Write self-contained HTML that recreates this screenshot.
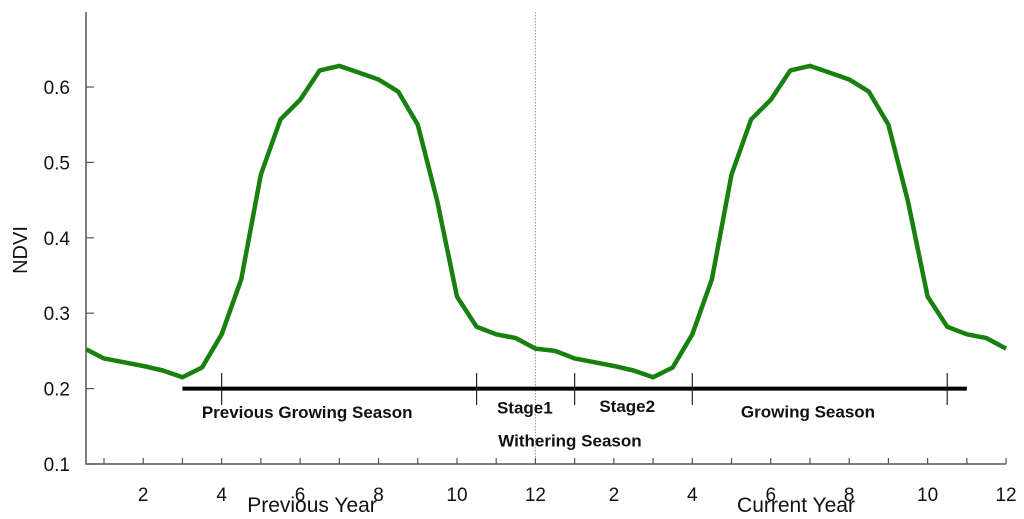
<!DOCTYPE html>
<html><head><meta charset="utf-8"><style>
body{margin:0;background:#fff;}
svg{display:block;font-family:"Liberation Sans",sans-serif;}
</style></head><body>
<svg id="c" width="1024" height="519" viewBox="0 0 1024 519"></svg>
<script>
const months=[0.55,1,1.5,2,2.5,3,3.5,4,4.5,5,5.5,6,6.5,7,7.5,8,8.5,9,9.5,10,10.5,11,11.5,12,12.5,13,13.5,14,14.5,15,15.5,16,16.5,17,17.5,18,18.5,19,19.5,20,20.5,21,21.5,22,22.5,23,23.5,24];
const ndvi=[0.252,0.240,0.235,0.230,0.224,0.215,0.228,0.272,0.345,0.484,0.557,0.583,0.622,0.628,0.619,0.610,0.594,0.550,0.448,0.322,0.282,0.272,0.267,0.253,0.250,0.240,0.235,0.230,0.224,0.215,0.228,0.272,0.345,0.484,0.557,0.583,0.622,0.628,0.619,0.610,0.594,0.550,0.448,0.322,0.282,0.272,0.267,0.253];
const yTicks=[0.1,0.2,0.3,0.4,0.5,0.6];
const xTickLabels=["2","4","6","8","10","12","2","4","6","8","10","12"];
const xTickMonths=[2,4,6,8,10,12,14,16,18,20,22,24];
const seasonStart=3, seasonEnd=23;
const seasonMarks=[4,10.5,13,16,22.5];
const seasonLabels=["Previous Growing Season","Stage1","Stage2","Growing Season","Withering Season"];
const seasonLabelMonths=[6.18,11.73,14.34,18.95,12.88];
const seasonLabelY=[0.161,0.167,0.169,0.162,0.123];

const X=m=>104+(m-1)*39.22;
const Y=v=>464-(v-0.1)*754;
const svg=document.getElementById('c');
const NS="http://www.w3.org/2000/svg";
function mk(t,a,p){const e=document.createElementNS(NS,t);for(const k in a)e.setAttribute(k,a[k]);(p||svg).appendChild(e);return e;}

let e;
e=mk('line',{x1:X(12),x2:X(12),y1:12,y2:464,stroke:'#999','stroke-width':1,'stroke-dasharray':'1.5,1.5'});


e=mk('path',{d:'M86 12V464H1006',fill:'none',stroke:'#555','stroke-width':1.5});


yTicks.forEach(v=>{
 e=mk('line',{x1:86,x2:94,y1:Y(v),y2:Y(v),stroke:'#555','stroke-width':1.2});
 
 
 e=mk('text',{x:70,y:Y(v)+7,'text-anchor':'end','font-size':19,fill:'#111'});
 e.textContent=v.toFixed(1);
 
 
});
for(let m=1;m<=24;m++){
 e=mk('line',{x1:X(m),x2:X(m),y1:464,y2:458,stroke:'#555','stroke-width':1.2});
 
 
}
xTickMonths.forEach((m,i)=>{
 e=mk('text',{x:X(m),y:501,'text-anchor':'middle','font-size':19,fill:'#111'});
 e.textContent=xTickLabels[i];
 
 
});
e=mk('text',{x:312,y:512,'text-anchor':'middle','font-size':21,fill:'#111'});e.textContent='Previous Year';


e=mk('text',{x:796,y:512,'text-anchor':'middle','font-size':21,fill:'#111'});e.textContent='Current Year';


e=mk('text',{x:0,y:0,'text-anchor':'middle','font-size':20,fill:'#111',transform:'translate(27,250) rotate(-90)'});e.textContent='NDVI';



e=mk('polyline',{points:months.map((m,i)=>X(m)+','+Y(ndvi[i])).join(' '),fill:'none',stroke:'#17800f','stroke-width':4.5,'stroke-linejoin':'round'});



e=mk('line',{x1:X(seasonStart),x2:X(seasonEnd),y1:Y(0.2),y2:Y(0.2),stroke:'#000','stroke-width':4});


seasonMarks.forEach(m=>{
 e=mk('line',{x1:X(m),x2:X(m),y1:373,y2:405,stroke:'#222','stroke-width':1.2});
 
 
});
seasonLabels.forEach((t,i)=>{
 e=mk('text',{x:X(seasonLabelMonths[i]),y:Y(seasonLabelY[i]),'text-anchor':'middle','font-size':17,'font-weight':'bold',fill:'#111'});
 e.textContent=t;
 
 
});
</script>
</body></html>
